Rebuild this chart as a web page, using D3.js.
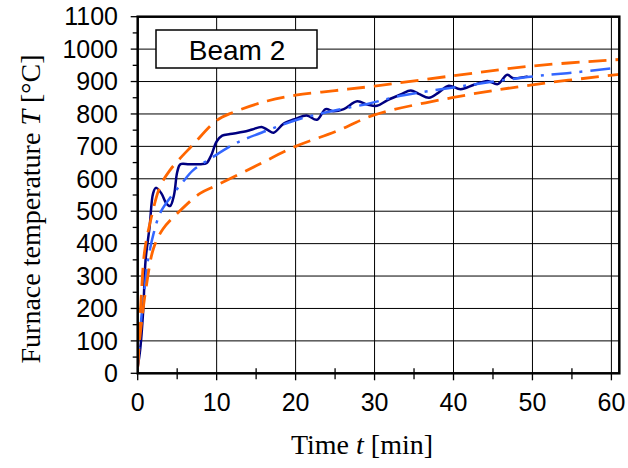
<!DOCTYPE html>
<html><head><meta charset="utf-8">
<script src="https://cdn.jsdelivr.net/npm/d3@7"></script>
<style>body{margin:0;background:#fff}</style>
</head><body><svg id="c" width="628" height="468"></svg>
<script>
// ---- data ----
const measured = [[0,20],[0.3,70],[0.7,195],[1.0,350],[1.5,450],[1.95,555],[2.3,572],[3.0,555],[3.6,525],[4.1,516],[4.6,550],[5.0,620],[5.4,645],[6.5,645],[8.0,645],[8.7,648],[9.3,672],[10,715],[10.7,733],[11.7,738],[13.4,745],[14.5,752],[15.7,760],[16.5,750],[17.2,742],[18.5,770],[20,785],[21.4,795],[22.7,782],[23.8,815],[24.8,808],[26.1,815],[27.8,839],[29.1,829],[30.3,825],[31.6,842],[33.3,860],[34.6,872],[35.6,862],[36.9,850],[38.1,866],[39.4,887],[40.9,876],[42.6,890],[44.3,902],[45.6,892],[46.8,921],[47.5,911],[49.4,916]];
const fitted = [[0,20],[0.47,174],[0.9,266],[1.3,349],[2,430],[2.8,492],[3.85,533],[5.55,585],[7,626],[9.15,661],[12.3,708],[16.4,749],[20.6,785],[24.8,810],[29.1,831],[33.3,856],[40.9,885],[49.4,914],[55.3,928],[60.5,942]];
const upperBound = [[0,20],[0.17,113],[0.47,246],[0.89,379],[1.74,482],[2.8,574],[4.07,626],[7,705],[10,780],[12.1,805],[16.4,840],[20,858],[25,872],[30,886],[40,918],[50,948],[61,968]];
const lowerBound = [[0,20],[0.2,90],[0.5,160],[1.1,270],[2,385],[3.2,445],[5.3,500],[7.9,555],[10,580],[15,640],[20,700],[25,745],[30,797],[40,851],[50,890],[61,922]];
const xTicks = [0,10,20,30,40,50,60];
const yTicks = [0,100,200,300,400,500,600,700,800,900,1000,1100];
const xMinor = [5,15,25,35,45,55];
const yMinor = [50,150,250,350,450,550,650,750,850,950,1050];
const titleText = "Beam 2";
const xLabel = ["Time ", "t", " [min]"];
const yLabel = ["Furnace temperature ", "T", " [°C]"];

// ---- layout ----
const svg = d3.select("#c");
const L = 137.7, R = 619.3, T = 16.7, B = 373.3;
const x = d3.scaleLinear().domain([0, 61]).range([L, R]);
const y = d3.scaleLinear().domain([0, 1100]).range([B, T]);

// grid
const g = svg.append("g");
g.selectAll(".hg").data(yTicks.slice(1)).enter().append("line")
  .attr("x1", L).attr("x2", R).attr("y1", d => y(d)).attr("y2", d => y(d))
  .attr("stroke", "#000").attr("stroke-width", 1);
g.selectAll(".vg").data(xTicks.slice(1)).enter().append("line")
  .attr("x1", d => x(d)).attr("x2", d => x(d)).attr("y1", T).attr("y2", B)
  .attr("stroke", "#000").attr("stroke-width", 1);

// y ticks
g.selectAll(".yt").data(yTicks).enter().append("line")
  .attr("x1", L - 7).attr("x2", L).attr("y1", d => y(d)).attr("y2", d => y(d))
  .attr("stroke", "#000").attr("stroke-width", 1.3);
g.selectAll(".ym").data(yMinor).enter().append("line")
  .attr("x1", L - 5).attr("x2", L).attr("y1", d => y(d)).attr("y2", d => y(d))
  .attr("stroke", "#000").attr("stroke-width", 1.3);
// x ticks
g.selectAll(".xt").data(xTicks).enter().append("line")
  .attr("x1", d => x(d)).attr("x2", d => x(d)).attr("y1", B).attr("y2", B + 7)
  .attr("stroke", "#000").attr("stroke-width", 1.3);
g.selectAll(".xm").data(xMinor).enter().append("line")
  .attr("x1", d => x(d)).attr("x2", d => x(d)).attr("y1", B - 5).attr("y2", B + 6)
  .attr("stroke", "#000").attr("stroke-width", 1.3);

// series
svg.append("clipPath").attr("id", "clip").append("rect")
  .attr("x", L).attr("y", T).attr("width", R - L).attr("height", B - T);
const pg = svg.append("g").attr("clip-path", "url(#clip)");
const line = d3.line().x(d => x(d[0])).y(d => y(d[1])).curve(d3.curveCatmullRom.alpha(0.5));
pg.append("path").datum(measured).attr("d", line).attr("fill", "none")
  .attr("stroke", "#000080").attr("stroke-width", 2.5).attr("stroke-linejoin", "round");
pg.append("path").datum(fitted).attr("d", line).attr("fill", "none")
  .attr("stroke", "#3366ff").attr("stroke-width", 2.5).attr("stroke-dasharray", "20,8,3,8");
[upperBound, lowerBound].forEach(s => {
  pg.append("path").datum(s).attr("d", line).attr("fill", "none")
    .attr("stroke", "#ff6600").attr("stroke-width", 2.8).attr("stroke-dasharray", "18,9");
});

// frame
svg.append("rect").attr("x", L).attr("y", T).attr("width", R - L).attr("height", B - T)
  .attr("fill", "none").attr("stroke", "#000").attr("stroke-width", 2.5);

// tick labels
const font = "'Liberation Sans', Arial, sans-serif";
svg.selectAll(".yl").data(yTicks).enter().append("text")
  .attr("x", 118).attr("y", d => y(d)).attr("dy", "0.35em").attr("text-anchor", "end")
  .attr("font-family", font).attr("font-size", 25).text(d => d);
svg.selectAll(".xl").data(xTicks).enter().append("text")
  .attr("x", d => x(d)).attr("y", 411).attr("text-anchor", "middle")
  .attr("font-family", font).attr("font-size", 25).text(d => d);

// title box
svg.append("rect").attr("x", 156).attr("y", 30).attr("width", 161).attr("height", 38)
  .attr("fill", "#fff").attr("stroke", "#000").attr("stroke-width", 1.5);
svg.append("text").attr("x", 237).attr("y", 60).attr("text-anchor", "middle")
  .attr("font-family", font).attr("font-size", 28).text(titleText);

// axis titles
const serif = "'Liberation Serif', 'Times New Roman', serif";
const xt = svg.append("text").attr("x", 362).attr("y", 454).attr("text-anchor", "middle")
  .attr("font-family", serif).attr("font-size", 28);
xLabel.forEach((s, i) => xt.append("tspan").attr("font-style", i === 1 ? "italic" : "normal").text(s));
const yt = svg.append("text").attr("transform", "translate(40,209) rotate(-90)").attr("text-anchor", "middle")
  .attr("font-family", serif).attr("font-size", 28);
yLabel.forEach((s, i) => yt.append("tspan").attr("font-style", i === 1 ? "italic" : "normal").text(s));
</script></body></html>
